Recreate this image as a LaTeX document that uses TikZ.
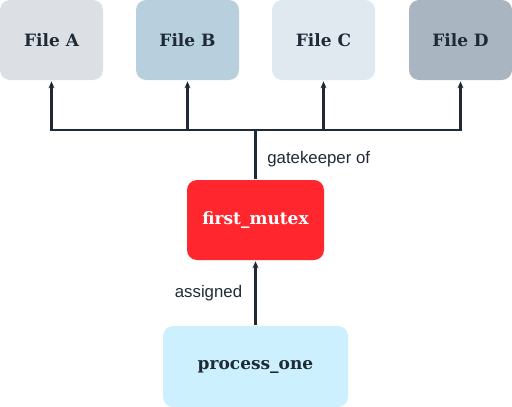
\documentclass[tikz,border=0pt]{standalone}
\usepackage{fontspec}
\setmainfont{DejaVu Serif}
\newfontfamily\lblfont{Liberation Sans}
\usetikzlibrary{arrows.meta}
\definecolor{ink}{HTML}{1E2B37}
\definecolor{fa}{HTML}{DCE0E4}
\definecolor{fb}{HTML}{B8D0DD}
\definecolor{fc}{HTML}{E1E9F0}
\definecolor{fd}{HTML}{A9B5C0}
\definecolor{mred}{HTML}{FF272D}
\definecolor{pblue}{HTML}{CCF0FD}
\tikzset{fl/.style = {rounded corners=10pt, minimum width=103pt, minimum height=80pt, inner sep=0pt,
                      text=ink, font=\bfseries\fontsize{17}{19}\selectfont},
           mx/.style = {fl, fill=mred, text=white, minimum width=137pt},
           pr/.style = {fl, fill=pblue, minimum width=185pt, minimum height=81pt},
           lb/.style = {text=ink, inner sep=0pt, font=\lblfont\fontsize{16.8}{19}\selectfont}}

\begin{document}
\begin{tikzpicture}[x=1pt, y=-1pt, >={Stealth[length=7pt,width=6pt]}, line width=2.7pt, draw=ink]
    \useasboundingbox (0,0) rectangle (512,407);
    \node[fl, fill=fa] (a) at (51.5,40) {File A}; \node[fl, fill=fb] (b) at (187.5,40) {File B};
    \node[fl, fill=fc] (c) at (323.5,40) {File C}; \node[fl, fill=fd] (d) at (460.5,40) {File D};
    \node[mx] (m) at (255.5,220) {first\_mutex};
    \node[pr] (p) at (255.5,366.5) {process\_one};
    \coordinate (j) at (255.5,130);
    \draw[ink] (m) -- (j);
    \foreach \f in {a,b,c,d} \draw[->, ink] (j) -| (\f);
    \draw[->, ink] (p) -- (m);
    \node[lb, anchor=west] (g) at (266,159) {gatekeeper of};
    \node[lb] (s) at (208.5,293) {assigned};
\end{tikzpicture}
\end{document}
